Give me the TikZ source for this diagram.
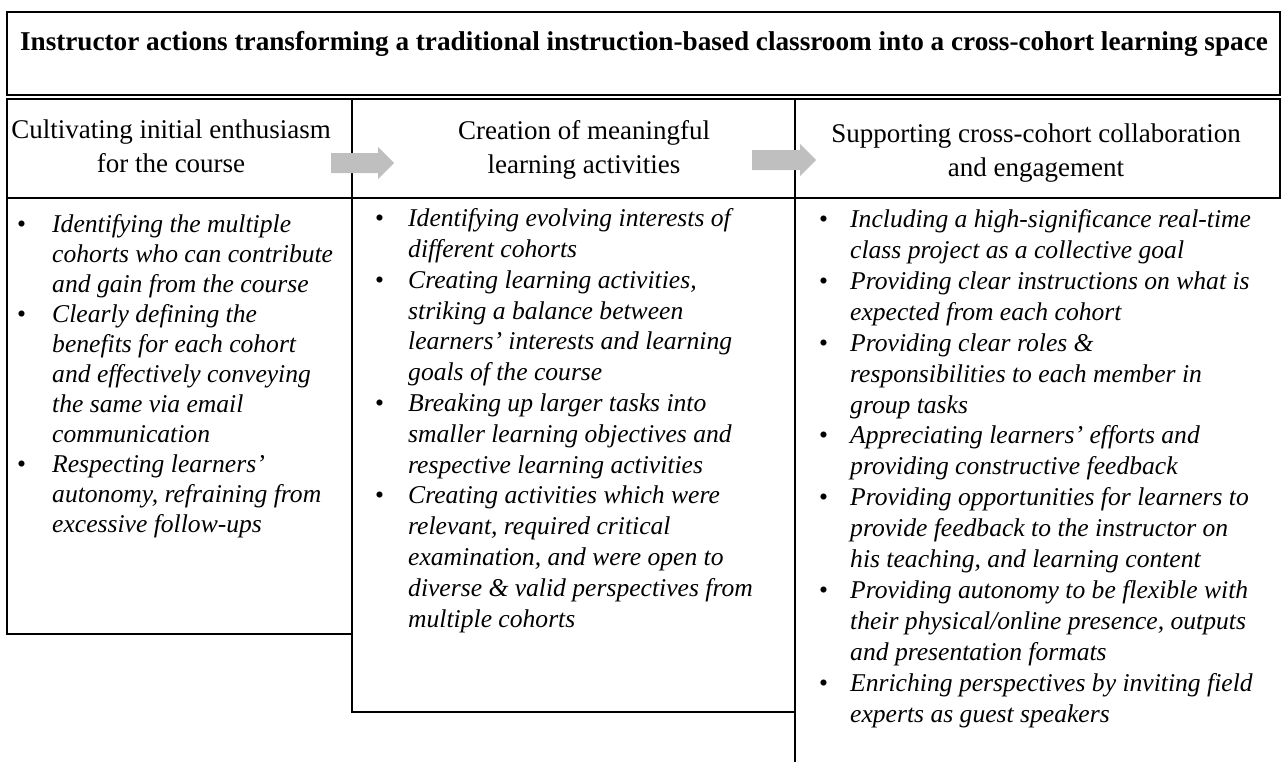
\documentclass[tikz,border=0pt]{standalone}
\usepackage{fontspec}
\setmainfont{Liberation Serif}

% bullet followed by a fixed gap, and the matching hanging indent
\newcommand\colbullet[1]{\makebox[#1][l]{\upshape\textbullet}}
\newcommand\colindent[1]{\hspace*{#1}}

\begin{document}
\begin{tikzpicture}[x=1pt,y=-1pt,
  rule/.style={line width=1.7pt, line cap=rect},
  titletext/.style={inner sep=0pt, anchor=base, font=\bfseries\fontsize{27.2}{32}\selectfont},
  headtext/.style={inner sep=0pt, anchor=base, align=center, font=\fontsize{27}{34}\selectfont},
  bodytext/.style={inner sep=0pt, anchor=base west, align=left, font=\itshape\fontsize{25.6}{#1}\selectfont},
  blockarrow/.style={fill=black!25, draw=none}]
\useasboundingbox (0,0) rectangle (1281,761);

% frame: title box, double rule, header row and the three columns
\draw[rule] (7,12) rectangle (1280,95);
\draw[rule] (7,99) -- (1280,99);
\draw[rule] (7,198) -- (1280,198);
\draw[rule] (1280,99) -- (1280,198);
\draw[rule] (7,99) -- (7,634) -- (352,634);
\draw[rule] (352,99) -- (352,712) -- (795,712);
\draw[rule] (795,99) -- (795,761);

% title
\node[titletext] (title) at (644,50) {Instructor actions transforming a traditional instruction-based classroom into a cross-cohort learning space};

% column headings (placed by the baseline of their last line)
\node[headtext] (h1) at (171,172) {Cultivating initial enthusiasm\\for the course};
\node[headtext] (h2) at (584,173) {Creation of meaningful\\learning activities};
\node[headtext] (h3) at (1036,176) {Supporting cross-cohort collaboration\\and engagement};

% block arrows between the headings
\fill[blockarrow] (331,153) -- (378,153) -- (378,147) -- (394,163) -- (378,179) -- (378,173) -- (331,173) -- cycle;
\fill[blockarrow] (752,150) -- (800,150) -- (800,144) -- (816,160) -- (800,176) -- (800,170) -- (752,170) -- cycle;

% column bodies (placed by the baseline of their last line)
\node[bodytext=30] (b1) at (17,532) {%
\colbullet{35pt}Identifying the multiple\\
\colindent{35pt}cohorts who can contribute\\
\colindent{35pt}and gain from the course\\
\colbullet{35pt}Clearly defining the\\
\colindent{35pt}benefits for each cohort\\
\colindent{35pt}and effectively conveying\\
\colindent{35pt}the same via email\\
\colindent{35pt}communication\\
\colbullet{35pt}Respecting learners’\\
\colindent{35pt}autonomy, refraining from\\
\colindent{35pt}excessive follow-ups};

\node[bodytext=30.8] (b2) at (375,627) {%
\colbullet{33pt}Identifying evolving interests of\\
\colindent{33pt}different cohorts\\
\colbullet{33pt}Creating learning activities,\\
\colindent{33pt}striking a balance between\\
\colindent{33pt}learners’ interests and learning\\
\colindent{33pt}goals of the course\\
\colbullet{33pt}Breaking up larger tasks into\\
\colindent{33pt}smaller learning objectives and\\
\colindent{33pt}respective learning activities\\
\colbullet{33pt}Creating activities which were\\
\colindent{33pt}relevant, required critical\\
\colindent{33pt}examination, and were open to\\
\colindent{33pt}diverse \& valid perspectives from\\
\colindent{33pt}multiple cohorts};

\node[bodytext=30.9] (b3) at (819,722) {%
\colbullet{31pt}Including a high-significance real-time\\
\colindent{31pt}class project as a collective goal\\
\colbullet{31pt}Providing clear instructions on what is\\
\colindent{31pt}expected from each cohort\\
\colbullet{31pt}Providing clear roles \&\\
\colindent{31pt}responsibilities to each member in\\
\colindent{31pt}group tasks\\
\colbullet{31pt}Appreciating learners’ efforts and\\
\colindent{31pt}providing constructive feedback\\
\colbullet{31pt}Providing opportunities for learners to\\
\colindent{31pt}provide feedback to the instructor on\\
\colindent{31pt}his teaching, and learning content\\
\colbullet{31pt}Providing autonomy to be flexible with\\
\colindent{31pt}their physical/online presence, outputs\\
\colindent{31pt}and presentation formats\\
\colbullet{31pt}Enriching perspectives by inviting field\\
\colindent{31pt}experts as guest speakers};
\end{tikzpicture}
\end{document}
